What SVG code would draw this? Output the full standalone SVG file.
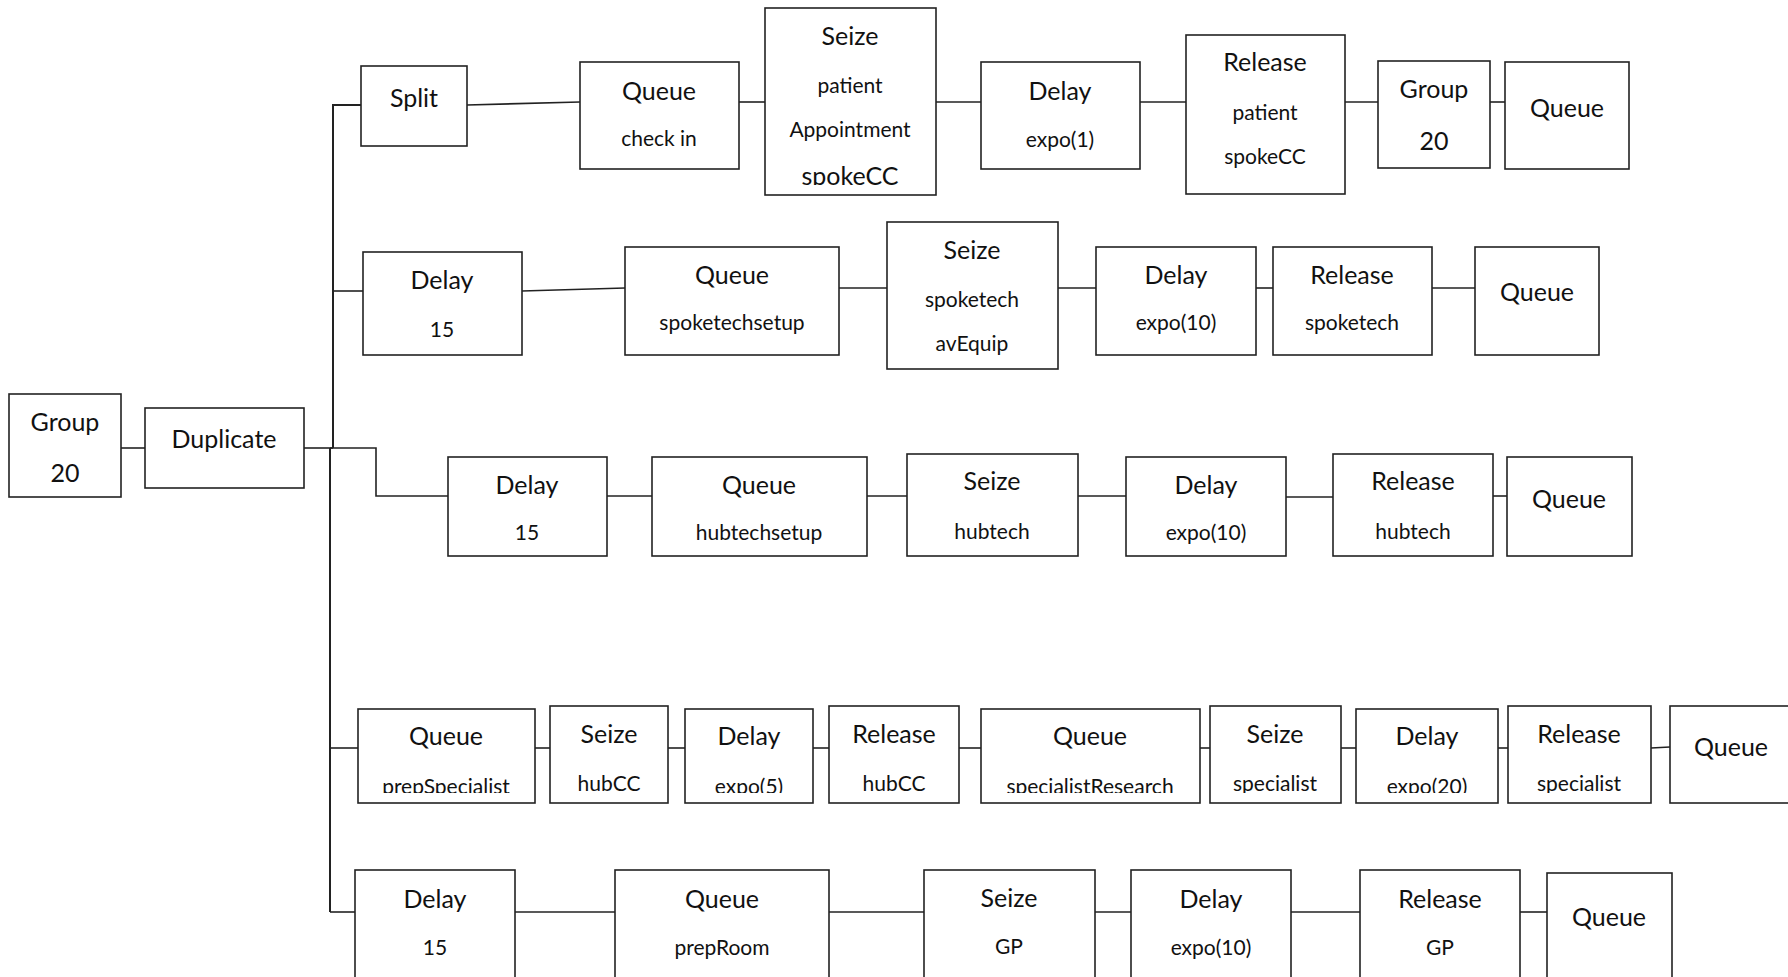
<svg xmlns="http://www.w3.org/2000/svg" width="1788" height="977" viewBox="0 0 1788 977">
<style>
.b{fill:#fff;stroke:#222;stroke-width:1.6}
.c{fill:none;stroke:#222;stroke-width:1.6}
.t{stroke-width:2}
text{font-family:Lato,"Liberation Sans",sans-serif;fill:#111;text-anchor:middle}
.h{font-size:25px}
.s{font-size:21px}
</style>
<defs>
<clipPath id="cs1"><rect x="765" y="8" width="171" height="177"/></clipPath>
<clipPath id="cr4"><rect x="300" y="700" width="1488" height="93"/></clipPath>
</defs>
<rect width="1788" height="977" fill="#fff"/>
<g id="connectors">
<polyline class="c t" points="361,105 333,105 333,448"/>
<line class="c" x1="333" y1="291" x2="363" y2="291"/>
<polyline class="c t" points="330,448 330,912"/>
<line class="c" x1="304" y1="448" x2="333" y2="448"/>
<polyline class="c" points="330,448 376,448 376,496 448,496"/>
<line class="c" x1="330" y1="748" x2="358" y2="748"/>
<line class="c" x1="330" y1="912" x2="355" y2="912"/>
<line class="c" x1="121" y1="448" x2="145" y2="448"/>
<line class="c" x1="467" y1="105" x2="580" y2="102"/>
<line class="c" x1="739" y1="102" x2="765" y2="102"/>
<line class="c" x1="936" y1="102" x2="981" y2="102"/>
<line class="c" x1="1140" y1="102" x2="1186" y2="102"/>
<line class="c" x1="1345" y1="102" x2="1378" y2="102"/>
<line class="c" x1="1490" y1="102" x2="1505" y2="102"/>
<line class="c" x1="522" y1="291" x2="625" y2="288"/>
<line class="c" x1="839" y1="288" x2="887" y2="288"/>
<line class="c" x1="1058" y1="288" x2="1096" y2="288"/>
<line class="c" x1="1256" y1="288" x2="1273" y2="288"/>
<line class="c" x1="1432" y1="288" x2="1475" y2="288"/>
<line class="c" x1="607" y1="496" x2="652" y2="496"/>
<line class="c" x1="867" y1="496" x2="907" y2="496"/>
<line class="c" x1="1078" y1="496" x2="1126" y2="496"/>
<line class="c" x1="1286" y1="497" x2="1333" y2="497"/>
<line class="c" x1="1493" y1="496" x2="1507" y2="496"/>
<line class="c" x1="535" y1="748" x2="550" y2="748"/>
<line class="c" x1="668" y1="748" x2="685" y2="748"/>
<line class="c" x1="813" y1="748" x2="829" y2="748"/>
<line class="c" x1="959" y1="748" x2="981" y2="748"/>
<line class="c" x1="1200" y1="748" x2="1210" y2="748"/>
<line class="c" x1="1341" y1="748" x2="1356" y2="748"/>
<line class="c" x1="1498" y1="748" x2="1508" y2="748"/>
<line class="c" x1="1651" y1="748" x2="1670" y2="747"/>
<line class="c" x1="515" y1="912" x2="615" y2="912"/>
<line class="c" x1="829" y1="912" x2="924" y2="912"/>
<line class="c" x1="1095" y1="912" x2="1131" y2="912"/>
<line class="c" x1="1291" y1="912" x2="1360" y2="912"/>
<line class="c" x1="1520" y1="912" x2="1547" y2="912"/>
</g>
<g id="split"><rect class="b" x="361" y="66" width="106" height="80"/><text class="h" x="414" y="107">Split</text></g>
<g id="queue-checkin"><rect class="b" x="580" y="62" width="159" height="107"/><text class="h" x="659" y="100">Queue</text><text class="s" x="659" y="146">check in</text></g>
<g id="seize-patient"><rect class="b" x="765" y="8" width="171" height="187"/><g clip-path="url(#cs1)"><text class="h" x="850" y="45">Seize</text><text class="s" x="850" y="93">patient</text><text class="s" x="850" y="137">Appointment</text><text class="h" x="850" y="185">spokeCC</text></g></g>
<g id="delay-expo1"><rect class="b" x="981" y="62" width="159" height="107"/><text class="h" x="1060" y="100">Delay</text><text class="s" x="1060" y="147">expo(1)</text></g>
<g id="release-patient"><rect class="b" x="1186" y="35" width="159" height="159"/><text class="h" x="1265" y="71">Release</text><text class="s" x="1265" y="120">patient</text><text class="s" x="1265" y="164">spokeCC</text></g>
<g id="group-20-top"><rect class="b" x="1378" y="61" width="112" height="107"/><text class="h" x="1434" y="98">Group</text><text class="h" x="1434" y="150">20</text></g>
<g id="queue-end1"><rect class="b" x="1505" y="62" width="124" height="107"/><text class="h" x="1567" y="117">Queue</text></g>

<g id="delay-15-a"><rect class="b" x="363" y="252" width="159" height="103"/><text class="h" x="442" y="289">Delay</text><text class="s" x="442" y="337">15</text></g>
<g id="queue-spoketechsetup"><rect class="b" x="625" y="247" width="214" height="108"/><text class="h" x="732" y="284">Queue</text><text class="s" x="732" y="330">spoketechsetup</text></g>
<g id="seize-spoketech"><rect class="b" x="887" y="222" width="171" height="147"/><text class="h" x="972" y="259">Seize</text><text class="s" x="972" y="307">spoketech</text><text class="s" x="972" y="351">avEquip</text></g>
<g id="delay-expo10-a"><rect class="b" x="1096" y="247" width="160" height="108"/><text class="h" x="1176" y="284">Delay</text><text class="s" x="1176" y="330">expo(10)</text></g>
<g id="release-spoketech"><rect class="b" x="1273" y="247" width="159" height="108"/><text class="h" x="1352" y="284">Release</text><text class="s" x="1352" y="330">spoketech</text></g>
<g id="queue-end2"><rect class="b" x="1475" y="247" width="124" height="108"/><text class="h" x="1537" y="301">Queue</text></g>

<g id="group-20"><rect class="b" x="9" y="394" width="112" height="103"/><text class="h" x="65" y="431">Group</text><text class="h" x="65" y="482">20</text></g>
<g id="duplicate"><rect class="b" x="145" y="408" width="159" height="80"/><text class="h" x="224" y="448">Duplicate</text></g>
<g id="delay-15-b"><rect class="b" x="448" y="457" width="159" height="99"/><text class="h" x="527" y="494">Delay</text><text class="s" x="527" y="540">15</text></g>
<g id="queue-hubtechsetup"><rect class="b" x="652" y="457" width="215" height="99"/><text class="h" x="759" y="494">Queue</text><text class="s" x="759" y="540">hubtechsetup</text></g>
<g id="seize-hubtech"><rect class="b" x="907" y="454" width="171" height="102"/><text class="h" x="992" y="490">Seize</text><text class="s" x="992" y="539">hubtech</text></g>
<g id="delay-expo10-b"><rect class="b" x="1126" y="457" width="160" height="99"/><text class="h" x="1206" y="494">Delay</text><text class="s" x="1206" y="540">expo(10)</text></g>
<g id="release-hubtech"><rect class="b" x="1333" y="454" width="160" height="102"/><text class="h" x="1413" y="490">Release</text><text class="s" x="1413" y="539">hubtech</text></g>
<g id="queue-end3"><rect class="b" x="1507" y="457" width="125" height="99"/><text class="h" x="1569" y="508">Queue</text></g>

<g id="queue-prepspecialist"><rect class="b" x="358" y="709" width="177" height="94"/><g clip-path="url(#cr4)"><text class="h" x="446" y="745">Queue</text><text class="s" x="446" y="794">prepSpecialist</text></g></g>
<g id="seize-hubcc"><rect class="b" x="550" y="706" width="118" height="97"/><g clip-path="url(#cr4)"><text class="h" x="609" y="743">Seize</text><text class="s" x="609" y="791">hubCC</text></g></g>
<g id="delay-expo5"><rect class="b" x="685" y="709" width="128" height="94"/><g clip-path="url(#cr4)"><text class="h" x="749" y="745">Delay</text><text class="s" x="749" y="794">expo(5)</text></g></g>
<g id="release-hubcc"><rect class="b" x="829" y="706" width="130" height="97"/><g clip-path="url(#cr4)"><text class="h" x="894" y="743">Release</text><text class="s" x="894" y="791">hubCC</text></g></g>
<g id="queue-specialistresearch"><rect class="b" x="981" y="709" width="219" height="94"/><g clip-path="url(#cr4)"><text class="h" x="1090" y="745">Queue</text><text class="s" x="1090" y="794">specialistResearch</text></g></g>
<g id="seize-specialist"><rect class="b" x="1210" y="706" width="131" height="97"/><g clip-path="url(#cr4)"><text class="h" x="1275" y="743">Seize</text><text class="s" x="1275" y="791">specialist</text></g></g>
<g id="delay-expo20"><rect class="b" x="1356" y="709" width="142" height="94"/><g clip-path="url(#cr4)"><text class="h" x="1427" y="745">Delay</text><text class="s" x="1427" y="794">expo(20)</text></g></g>
<g id="release-specialist"><rect class="b" x="1508" y="706" width="143" height="97"/><g clip-path="url(#cr4)"><text class="h" x="1579" y="743">Release</text><text class="s" x="1579" y="791">specialist</text></g></g>
<g id="queue-end4"><rect class="b" x="1670" y="706" width="130" height="97"/><text class="h" x="1731" y="756">Queue</text></g>

<g id="delay-15-c"><rect class="b" x="355" y="870" width="160" height="120"/><text class="h" x="435" y="908">Delay</text><text class="s" x="435" y="955">15</text></g>
<g id="queue-preproom"><rect class="b" x="615" y="870" width="214" height="120"/><text class="h" x="722" y="908">Queue</text><text class="s" x="722" y="955">prepRoom</text></g>
<g id="seize-gp"><rect class="b" x="924" y="870" width="171" height="120"/><text class="h" x="1009" y="907">Seize</text><text class="s" x="1009" y="954">GP</text></g>
<g id="delay-expo10-c"><rect class="b" x="1131" y="870" width="160" height="120"/><text class="h" x="1211" y="908">Delay</text><text class="s" x="1211" y="955">expo(10)</text></g>
<g id="release-gp"><rect class="b" x="1360" y="870" width="160" height="120"/><text class="h" x="1440" y="908">Release</text><text class="s" x="1440" y="955">GP</text></g>
<g id="queue-end5"><rect class="b" x="1547" y="873" width="125" height="120"/><text class="h" x="1609" y="926">Queue</text></g>
</svg>
